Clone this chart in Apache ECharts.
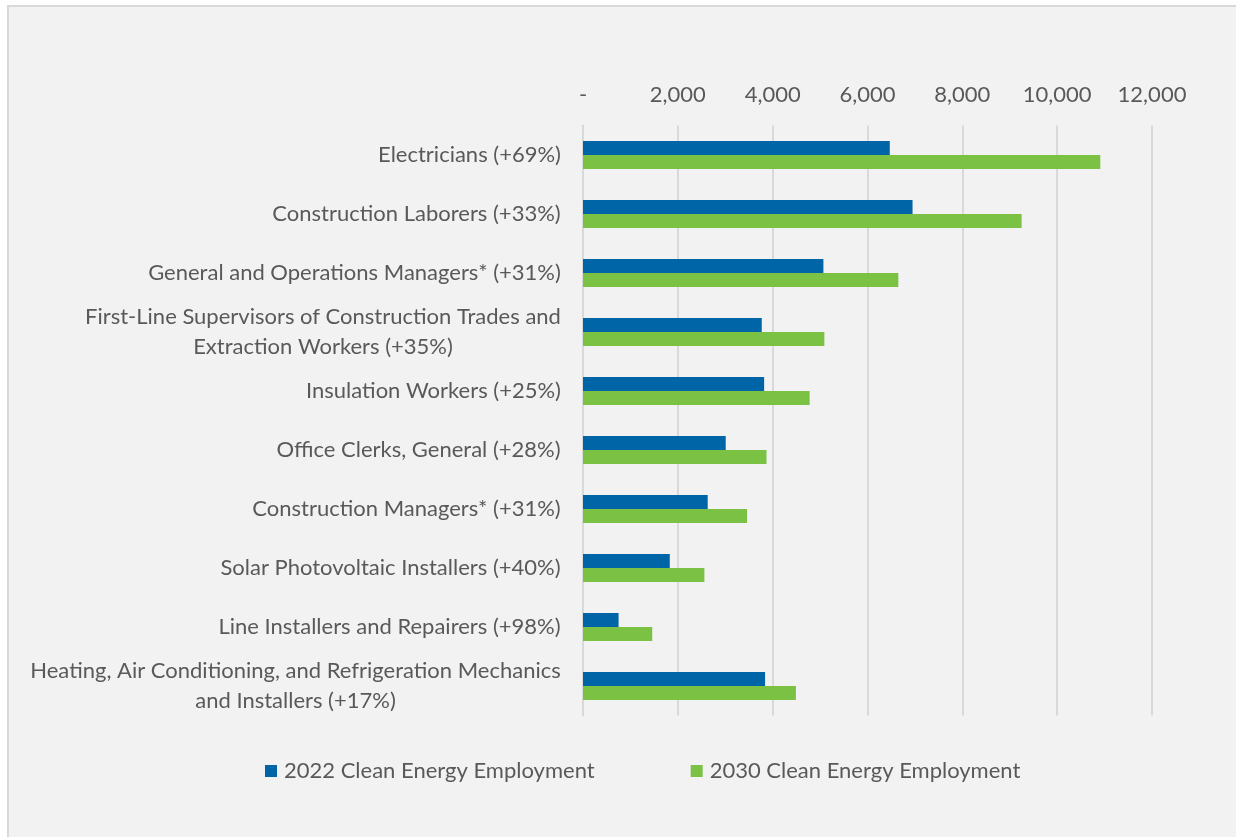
<!DOCTYPE html>
<html>
<head>
<meta charset="utf-8">
<script src="https://cdn.jsdelivr.net/npm/echarts@6/dist/echarts.min.js"></script>
<style>
html,body{margin:0;padding:0;background:#ffffff;}
#chart{width:1236px;height:837px;}
</style>
</head>
<body>
<div id="chart"></div>
<script>
const categories = [
  "Electricians (+69%)",
  "Construction Laborers (+33%)",
  "General and Operations Managers* (+31%)",
  "First-Line Supervisors of Construction Trades and\nExtraction Workers (+35%)",
  "Insulation Workers (+25%)",
  "Office Clerks, General (+28%)",
  "Construction Managers* (+31%)",
  "Solar Photovoltaic Installers (+40%)",
  "Line Installers and Repairers (+98%)",
  "Heating, Air Conditioning, and Refrigeration Mechanics\nand Installers (+17%)"
];
const seriesNames = ["2022 Clean Energy Employment", "2030 Clean Energy Employment"];
const values2022 = [6470, 6950, 5070, 3770, 3820, 3010, 2630, 1830, 750, 3840];
const values2030 = [10910, 9250, 6650, 5090, 4780, 3870, 3460, 2560, 1460, 4490];
const xTicks = [0, 2000, 4000, 6000, 8000, 10000, 12000];

const FONT = "Lato, 'Open Sans', sans-serif";
const cv = document.createElement('canvas').getContext('2d');
function measure(t, size) { cv.font = size + "px " + FONT; return cv.measureText(t).width; }
let fs = 18 * 183 / measure("Electricians (+69%)", 18);
fs = Math.round(fs * 2) / 2;

const rich = {};
categories.forEach((c, i) => {
  const lines = c.split("\n");
  const w = Math.max(...lines.map(l => measure(l, fs)));
  rich['l' + i] = { width: Math.ceil(w) + 2, align: 'center', fontSize: fs, fontFamily: FONT, color: '#595959', lineHeight: 30 };
});

const chart = echarts.init(document.getElementById('chart'), null, { renderer: 'canvas' });
chart.setOption({
  backgroundColor: '#ffffff',
  animation: false,
  graphic: [{
    type: 'rect', silent: true, z: -10,
    shape: { x: 8, y: 6, width: 1240, height: 840 },
    style: { fill: '#f2f2f2', stroke: '#d9d9d9', lineWidth: 2 }
  }],
  grid: { left: 583, right: 84, top: 125.5, bottom: 121.5, containLabel: false },
  legend: {
    left: 260, top: 755,
    itemWidth: 12, itemHeight: 12, itemGap: 96,
    icon: 'rect',
    textStyle: { color: '#595959', fontSize: fs, fontFamily: FONT, padding: [0, 0, 0, 2] },
    data: seriesNames
  },
  xAxis: {
    type: 'value', position: 'top', min: 0, max: 12000, interval: 2000,
    axisLine: { show: false }, axisTick: { show: false },
    splitLine: { show: true, lineStyle: { color: '#d9d9d9', width: 2 } },
    axisLabel: {
      color: '#595959', fontSize: fs, fontFamily: FONT, margin: 20,
      formatter: v => v === 0 ? '-' : v.toLocaleString('en-US')
    }
  },
  yAxis: {
    type: 'category', inverse: true, data: categories,
    axisLine: { show: true, lineStyle: { color: '#d9d9d9', width: 2 } },
    axisTick: { show: false },
    axisLabel: {
      color: '#595959', fontSize: fs, fontFamily: FONT, margin: 21, lineHeight: 30,
      formatter: (v, i) => v.split("\n").map(l => '{l' + i + '|' + l + '}').join("\n"),
      rich: rich
    }
  },
  series: [
    { name: seriesNames[0], type: 'bar', data: values2022, barWidth: 14, barGap: '0%', itemStyle: { color: '#0065a6' } },
    { name: seriesNames[1], type: 'bar', data: values2030, barWidth: 14, barGap: '0%', itemStyle: { color: '#7bc143' } }
  ]
});
</script>
</body>
</html>
